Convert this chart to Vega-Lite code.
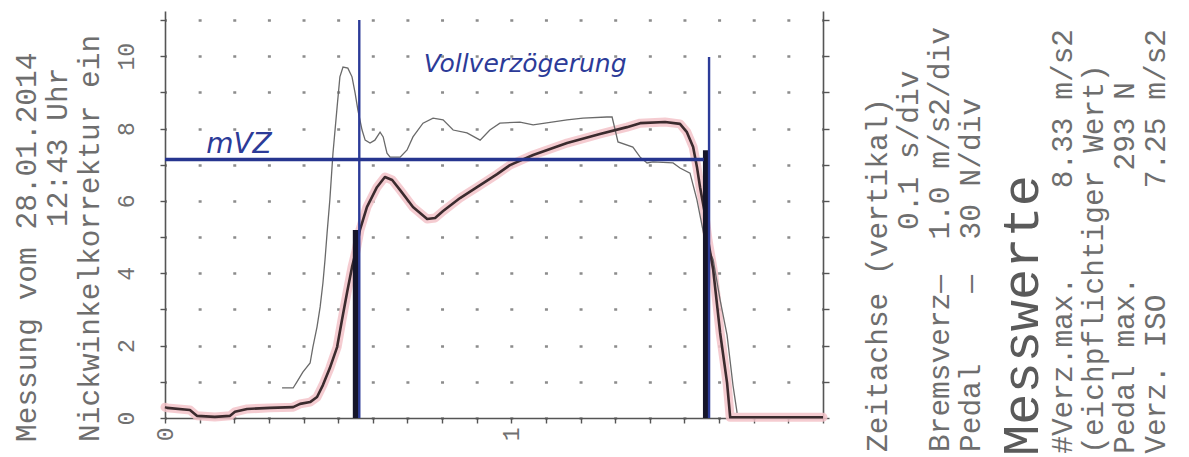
{
  "$schema": "https://vega.github.io/schema/vega-lite/v6.json",
  "width": 658,
  "height": 407,
  "autosize": {"type": "none"},
  "padding": {"left": 165, "top": 11, "right": 366, "bottom": 39},
  "background": "white",
  "config": {"view": {"stroke": null}},
  "datasets": {
    "brake": [
      {"t": 0, "v": 0.3}, {"t": 0.006, "v": 0.28}, {"t": 0.072, "v": 0.22}, {"t": 0.092, "v": 0.06}, {"t": 0.144, "v": 0.03},
      {"t": 0.188, "v": 0.06}, {"t": 0.202, "v": 0.17}, {"t": 0.237, "v": 0.25}, {"t": 0.303, "v": 0.28}, {"t": 0.37, "v": 0.3},
      {"t": 0.39, "v": 0.39}, {"t": 0.419, "v": 0.44}, {"t": 0.439, "v": 0.58}, {"t": 0.456, "v": 0.91}, {"t": 0.476, "v": 1.38},
      {"t": 0.497, "v": 1.96}, {"t": 0.511, "v": 2.71}, {"t": 0.526, "v": 3.48}, {"t": 0.54, "v": 4.17}, {"t": 0.552, "v": 4.64},
      {"t": 0.563, "v": 5.2}, {"t": 0.583, "v": 5.83}, {"t": 0.612, "v": 6.38}, {"t": 0.635, "v": 6.66}, {"t": 0.656, "v": 6.58},
      {"t": 0.679, "v": 6.3}, {"t": 0.716, "v": 5.83}, {"t": 0.757, "v": 5.5}, {"t": 0.78, "v": 5.53}, {"t": 0.803, "v": 5.72},
      {"t": 0.852, "v": 6.08}, {"t": 0.901, "v": 6.38}, {"t": 0.959, "v": 6.74}, {"t": 0.996, "v": 6.99}, {"t": 1.063, "v": 7.27},
      {"t": 1.161, "v": 7.6}, {"t": 1.256, "v": 7.85}, {"t": 1.334, "v": 8.04}, {"t": 1.372, "v": 8.15}, {"t": 1.444, "v": 8.18},
      {"t": 1.487, "v": 8.13}, {"t": 1.507, "v": 7.9}, {"t": 1.525, "v": 7.49}, {"t": 1.536, "v": 6.94}, {"t": 1.545, "v": 6.38},
      {"t": 1.557, "v": 5.75}, {"t": 1.568, "v": 4.92}, {"t": 1.583, "v": 4.09}, {"t": 1.603, "v": 2.35}, {"t": 1.623, "v": 0.97},
      {"t": 1.632, "v": 0.02}, {"t": 1.9, "v": 0.02}
    ],
    "pedal": [
      {"t": 0.338, "v": 0.83}, {"t": 0.37, "v": 0.83}, {"t": 0.381, "v": 1.0}, {"t": 0.398, "v": 1.27}, {"t": 0.419, "v": 1.52},
      {"t": 0.427, "v": 1.96}, {"t": 0.439, "v": 2.52}, {"t": 0.448, "v": 3.07}, {"t": 0.456, "v": 3.73}, {"t": 0.462, "v": 4.37},
      {"t": 0.468, "v": 5.11}, {"t": 0.476, "v": 6.03}, {"t": 0.485, "v": 7.32}, {"t": 0.497, "v": 8.6}, {"t": 0.505, "v": 9.43},
      {"t": 0.514, "v": 9.7}, {"t": 0.528, "v": 9.67}, {"t": 0.54, "v": 9.43}, {"t": 0.549, "v": 8.98}, {"t": 0.557, "v": 8.51},
      {"t": 0.569, "v": 7.96}, {"t": 0.578, "v": 7.68}, {"t": 0.592, "v": 7.6}, {"t": 0.606, "v": 7.68}, {"t": 0.621, "v": 7.9},
      {"t": 0.63, "v": 7.77}, {"t": 0.641, "v": 7.32}, {"t": 0.65, "v": 7.21}, {"t": 0.679, "v": 7.21}, {"t": 0.699, "v": 7.41},
      {"t": 0.716, "v": 7.77}, {"t": 0.745, "v": 8.15}, {"t": 0.774, "v": 8.29}, {"t": 0.803, "v": 8.24}, {"t": 0.832, "v": 7.96},
      {"t": 0.872, "v": 7.88}, {"t": 0.91, "v": 7.68}, {"t": 0.938, "v": 7.96}, {"t": 0.967, "v": 8.15}, {"t": 1.025, "v": 8.18},
      {"t": 1.063, "v": 8.1}, {"t": 1.161, "v": 8.24}, {"t": 1.207, "v": 8.29}, {"t": 1.276, "v": 8.32}, {"t": 1.291, "v": 8.32},
      {"t": 1.308, "v": 7.63}, {"t": 1.351, "v": 7.49}, {"t": 1.372, "v": 7.21}, {"t": 1.392, "v": 7.05}, {"t": 1.409, "v": 7.08},
      {"t": 1.467, "v": 7.05}, {"t": 1.487, "v": 6.91}, {"t": 1.516, "v": 6.77}, {"t": 1.536, "v": 6.03}, {"t": 1.559, "v": 4.92},
      {"t": 1.583, "v": 4.37}, {"t": 1.603, "v": 3.26}, {"t": 1.623, "v": 2.29}, {"t": 1.64, "v": 0.91}, {"t": 1.652, "v": 0.14}
    ],
    "penV": [
      {"t": 0.561, "v": 0, "t2": 0.561, "v2": 11.0},
      {"t": 1.571, "v": 0, "t2": 1.571, "v2": 9.98}
    ],
    "penH": [
      {"t": 0, "v": 7.145, "t2": 1.556, "v2": 7.145}
    ],
    "bars": [
      {"t": 0.551, "v": 0, "t2": 0.551, "v2": 5.2},
      {"t": 1.562, "v": 0, "t2": 1.562, "v2": 7.4}
    ],
    "notesBig": [
      {"t": 0.2137, "v": 7.32, "txt": "mVZ"}
    ],
    "notesSmall": [
      {"t": 1.04, "v": 9.56, "txt": "Vollverzögerung"}
    ],
    "leftText": [
      {"t": -0.3985, "v": -0.663, "txt": "Messung vom 28.01.2014"},
      {"t": -0.309, "v": 5.28, "txt": "12:43 Uhr"},
      {"t": -0.2166, "v": -0.663, "txt": "Nickwinkelkorrektur ein"}
    ],
    "rightText": [
      {"t": 2.059, "v": -0.94, "txt": "Zeitachse (vertikal)"},
      {"t": 2.148, "v": 5.2, "txt": "0.1 s/div"},
      {"t": 2.238, "v": -0.94, "txt": "Bremsverz—\u00a0\u00a01.0 m/s2/div"},
      {"t": 2.327, "v": -0.94, "txt": "Pedal\u00a0\u00a0\u00a0\u00a0—\u00a0\u00a030 N/div"},
      {"t": 2.593, "v": -0.99, "txt": "#Verz.max.\u00a0\u00a0\u00a0\u00a0\u00a08.33 m/s2"},
      {"t": 2.683, "v": -0.99, "txt": "(eichpflichtiger Wert)"},
      {"t": 2.772, "v": -0.99, "txt": "Pedal max.\u00a0\u00a0\u00a0\u00a0\u00a0\u00a0293 N"},
      {"t": 2.862, "v": -0.99, "txt": "Verz. ISO\u00a0\u00a0\u00a0\u00a0\u00a0\u00a07.25 m/s2"}
    ],
    "heading": [
      {"t": 2.475, "v": -1.05, "txt": "Messwerte"}
    ]
  },
  "encoding": {
    "x": {
      "field": "t",
      "type": "quantitative",
      "scale": {"domain": [0, 1.9], "nice": false, "zero": false},
      "axis": {
        "orient": "bottom",
        "title": null,
        "values": [0, 0.1, 0.2, 0.3, 0.4, 0.5, 0.6, 0.7, 0.8, 0.9, 1, 1.1, 1.2, 1.3, 1.4, 1.5, 1.6, 1.7, 1.8, 1.9],
        "labelExpr": "datum.value == 0 ? '0' : (datum.value == 1 ? '1' : '')",
        "labelAngle": 270,
        "labelAlign": "right",
        "labelBaseline": "middle",
        "labelPadding": 4,
        "labelFont": "Liberation Mono",
        "labelFontSize": 23,
        "labelColor": "#707070",
        "labelOverlap": false,
        "labelFlush": false,
        "labelBound": false,
        "grid": false,
        "tickSize": 5,
        "tickColor": "#555555",
        "tickWidth": 1.4,
        "domainColor": "#555555",
        "domainWidth": 1.6
      }
    },
    "y": {
      "field": "v",
      "type": "quantitative",
      "scale": {"domain": [0, 11.25], "nice": false, "zero": false},
      "axis": null
    }
  },
  "layer": [
    {
      "data": {"name": "brake"},
      "mark": {"type": "line", "color": "#f3c3c9", "strokeWidth": 9, "opacity": 0.85, "strokeJoin": "round", "strokeCap": "round"},
      "encoding": {
        "y": {
          "field": "v",
          "type": "quantitative",
          "scale": {"domain": [0, 11.25], "nice": false, "zero": false},
          "axis": {
            "orient": "left",
            "title": null,
            "values": [0, 1, 2, 3, 4, 5, 6, 7, 8, 9, 10, 11],
            "labelExpr": "(datum.value % 2 == 0 && datum.value <= 10) ? datum.label : ''",
            "labelAngle": 270,
            "labelAlign": "center",
            "labelBaseline": "bottom",
            "labelPadding": 22,
            "labelFont": "Liberation Mono",
            "labelFontSize": 23,
            "labelColor": "#707070",
            "labelOverlap": false,
            "labelFlush": false,
            "labelBound": false,
            "grid": true,
            "gridDash": [3, 31.63],
            "gridDashOffset": 1.5,
            "gridColor": "#8c8c8c",
            "gridWidth": 2.5,
            "tickSize": 5,
            "tickColor": "#555555",
            "tickWidth": 1.4,
            "domainColor": "#555555",
            "domainWidth": 1.6
          }
        }
      }
    },
    {
      "data": {"name": "pedal"},
      "mark": {"type": "line", "color": "#6a6a6a", "strokeWidth": 1.3},
      "encoding": {
        "y": {
          "field": "v",
          "type": "quantitative",
          "scale": {"domain": [0, 11.25], "nice": false, "zero": false},
          "axis": {
            "orient": "right",
            "title": null,
            "values": [0, 1, 2, 3, 4, 5, 6, 7, 8, 9, 10, 11],
            "labels": false,
            "grid": false,
            "tickSize": 6,
            "tickColor": "#555555",
            "tickWidth": 1.4,
            "domainColor": "#555555",
            "domainWidth": 1.6
          }
        }
      }
    },
    {
      "data": {"name": "brake"},
      "mark": {"type": "line", "color": "#3b2b2e", "strokeWidth": 2.6, "strokeJoin": "round"}
    },
    {
      "data": {"name": "bars"},
      "mark": {"type": "rule", "color": "#15152a", "strokeWidth": 6},
      "encoding": {
        "x2": {"field": "t2"},
        "y2": {"field": "v2"}
      }
    },
    {
      "data": {"name": "penV"},
      "mark": {"type": "rule", "color": "#2c3b98", "strokeWidth": 2.4},
      "encoding": {
        "x2": {"field": "t2"},
        "y2": {"field": "v2"}
      }
    },
    {
      "data": {"name": "penH"},
      "mark": {"type": "rule", "color": "#26358f", "strokeWidth": 3.6},
      "encoding": {
        "x2": {"field": "t2"},
        "y2": {"field": "v2"}
      }
    },
    {
      "data": {"name": "notesBig"},
      "mark": {"type": "text", "font": "DejaVu Sans", "fontStyle": "italic", "fontSize": 28, "color": "#2c3b98", "align": "center", "baseline": "alphabetic", "clip": false},
      "encoding": {"text": {"field": "txt"}}
    },
    {
      "data": {"name": "notesSmall"},
      "mark": {"type": "text", "font": "DejaVu Sans", "fontStyle": "italic", "fontSize": 25, "color": "#2c3b98", "align": "center", "baseline": "alphabetic", "clip": false},
      "encoding": {"text": {"field": "txt"}}
    },
    {
      "data": {"name": "leftText"},
      "mark": {"type": "text", "font": "Liberation Mono", "fontSize": 29.5, "angle": 270, "color": "#6e6e6e", "align": "left", "baseline": "middle", "clip": false},
      "encoding": {"text": {"field": "txt"}}
    },
    {
      "data": {"name": "rightText"},
      "mark": {"type": "text", "font": "Liberation Mono", "fontSize": 29.5, "angle": 270, "color": "#6e6e6e", "align": "left", "baseline": "middle", "clip": false},
      "encoding": {"text": {"field": "txt"}}
    },
    {
      "data": {"name": "heading"},
      "mark": {"type": "text", "font": "Liberation Mono", "fontSize": 52, "angle": 270, "color": "#5a5a5a", "align": "left", "baseline": "middle", "clip": false},
      "encoding": {"text": {"field": "txt"}}
    }
  ],
  "resolve": {"axis": {"y": "independent"}}
}
